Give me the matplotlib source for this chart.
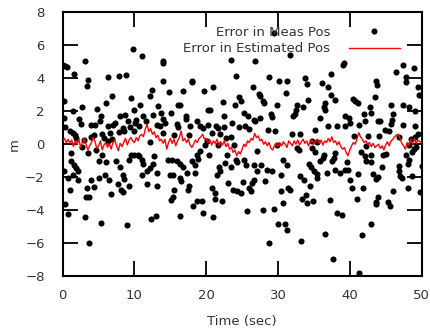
import numpy as np
import matplotlib
matplotlib.use("Agg")
import matplotlib.pyplot as plt

meas_t = [
    0.0, 0.37, 0.65, 1.57, 3.06, 3.5, 3.34, 6.3, 7.8, 8.86, 9.56, 6.87, 5.98, 0.18, 2.69, 1.39, 0.18, 4.82,
    2.31, 2.5, 5.29, 5.15, 3.98, 4.45, 6.31, 7.05, 7.3, 7.98, 8.63, 9.1, 8.44, 9.33, 0.37, 1.02, 1.4, 1.76,
    1.9, 3.99, 4.4, 5.47, 5.7, 6.54, 6.3, 6.9, 8.6, 7.9, 1.2, 1.1, 1.6, 1.9, 2.2, 0.18, 1.4, 0.74, 2.1, 0.97,
    3.99, 4.3, 3.43, 3.25, 3.7, 5.0, 5.85, 6.5, 5.0, 6.1, 5.5, 7.47, 8.0, 8.4, 8.54, 9.19, 7.7, 8.15, 8.4,
    6.68, 9.28, 9.55, 0.37, 0.74, 3.06, 5.38, 8.96, 3.62, 9.84, 3.5, 4.7, 2.7, 2.9,
    11.0, 13.93, 14.0, 14.0, 18.0, 18.05, 12.5, 12.2, 14.85, 16.8, 19.7, 10.77, 9.93, 13.3, 16.1, 16.4,
    13.65, 12.6, 15.1, 17.2, 17.2, 11.2, 10.2, 11.6, 10.1, 10.6, 14.0, 14.3, 13.1, 13.55, 15.9, 16.1, 18.7,
    17.8, 19.2, 19.6, 14.0, 15.5, 17.6, 10.0, 12.15, 10.0, 10.67, 10.5, 11.0, 11.2, 12.7, 12.6, 14.7, 15.2,
    15.9, 16.3, 16.7, 18.0, 18.66, 19.1, 18.9, 18.4, 12.15, 11.8, 11.0, 13.2, 14.95, 15.3, 16.3, 16.55,
    17.35, 18.4, 11.8, 13.2, 17.6, 17.5, 15.5, 15.3, 15.15, 18.2, 18.66, 19.36, 19.6, 12.25, 13.0, 16.4,
    23.4, 26.8, 24.2, 28.7, 21.0, 26.5, 27.4, 27.5, 27.85, 28.0, 24.5, 24.0, 24.9, 22.3, 20.2, 20.5, 25.25,
    25.8, 29.0, 29.2, 22.5, 23.6, 26.6, 26.8, 27.5, 20.2, 21.35, 21.6, 22.5, 24.6, 25.4, 25.9, 28.6, 29.6,
    20.8, 21.9, 23.5, 22.8, 20.1, 19.8, 21.6, 23.9, 27.1, 20.4, 22.9, 24.1, 25.3, 24.3, 22.6, 21.8, 21.95,
    21.5, 23.5, 25.5, 26.6, 27.1, 27.7, 28.45, 29.15, 28.2, 26.6, 26.4, 25.15, 23.1, 23.7, 24.3, 24.9, 25.9,
    26.3, 20.75, 21.2, 21.2, 22.2, 20.9, 25.7, 27.85, 29.4, 28.8, 29.4,
    31.65, 39.2, 39.1, 30.1, 31.3, 33.8, 34.0, 37.4, 36.2, 36.9, 31.1, 34.2, 37.4, 37.9, 36.5, 36.35, 36.6,
    35.9, 29.9, 32.6, 32.5, 32.4, 32.1, 33.5, 39.3, 38.2, 39.4, 35.2, 36.9, 32.0, 33.1, 34.8, 35.5, 29.8,
    32.7, 32.9, 34.8, 35.2, 36.4, 36.3, 38.0, 37.8, 37.5, 35.8, 30.7, 31.3, 30.4, 34.3, 34.6, 35.0, 35.5,
    35.5, 36.8, 38.0, 38.7, 39.4, 33.05, 33.6, 34.5, 30.4, 31.4, 31.7, 33.85, 33.4, 34.1, 34.9, 30.7, 37.3,
    38.25, 38.9, 30.0, 31.0, 31.2, 33.2, 36.6, 37.6,
    46.5, 47.45, 49.0, 47.8, 47.8, 43.7, 43.8, 49.45, 49.6, 43.5, 40.4, 40.7, 41.1, 45.7, 47.35, 48.2, 42.8,
    42.9, 49.1, 42.0, 46.05, 43.9, 44.2, 47.35, 49.1, 39.9, 40.1, 41.3, 42.1, 45.7, 45.9, 44.95, 45.4, 49.1,
    49.45, 40.6, 42.6, 44.1, 46.8, 48.5, 48.3, 42.25, 41.5, 42.1, 42.9, 42.25, 42.9, 44.65, 45.0, 47.8, 48.7,
    48.95, 49.2, 48.3, 48.05, 39.55, 39.8, 44.5, 46.9, 46.8, 47.0, 47.3, 48.65, 41.1, 43.3, 43.6, 43.9, 40.0,
    41.8, 40.3, 46.0, 48.1, 49.8, 40.95, 44.0, 43.6, 43.7, 45.3, 45.6, 42.9, 41.7, 41.3, 50.0, 49.9,
]
meas_err = [
    4.8, 4.72, 4.66, 4.27, 5.06, 3.9, 3.55, 4.05, 4.15, 4.2, 2.8, 2.94, 2.5, 2.6, 2.24, 2.03, 1.59, 2.15,
    1.53, 1.22, 1.69, 1.39, 1.18, 1.14, 1.08, 1.18, 1.3, 1.69, 1.79, 1.42, 0.98, 1.06, 1.02, 0.82, 0.65, 0.54,
    0.4, 0.42, 0.55, 0.61, 0.36, 0.67, 0.2, 0.3, 0.78, 0.75, -0.54, -1.04, -1.25, -1.45, -1.6, -1.65, -1.85,
    -2.05, -2.2, -2.76, -2.2, -2.6, -2.66, -3.19, -3.19, -2.05, -1.85, -2.2, -1.0, -1.1, -0.65, -1.04, -1.4,
    -1.85, -2.1, -2.56, -2.42, -2.76, -2.9, -3.02, -0.94, -0.65, -3.63, -4.24, -4.44, -4.78, -4.89, -6.0,
    5.78, -0.55, -0.35, -0.2, 0.25,
    5.33, 5.06, 4.95, 3.85, 3.85, 3.75, 3.3, 2.9, 3.14, 3.2, 3.24, 2.4, 2.09, 2.3, 2.39, 2.39, 1.89, 1.79,
    1.89, 1.69, 1.5, 1.69, 1.48, 1.39, 1.3, 1.1, 1.5, 1.3, 1.18, 1.08, 1.22, 1.02, 1.39, 1.08, 1.08, 0.98,
    0.68, 0.57, 0.57, 0.78, 0.13, -0.64, -0.74, -0.64, -0.94, -1.2, -0.74, -1.2, -0.94, -0.94, -1.04, -1.2,
    -1.4, -1.04, -0.64, -0.44, -0.88, -1.26, -1.45, -1.65, -1.85, -1.75, -1.89, -1.85, -2.05, -2.25, -1.75,
    -1.75, -2.42, -2.56, -2.56, -2.8, -2.76, -3.23, -3.37, -3.77, -3.47, -3.47, -4.18, -4.52, -4.38, -4.38,
    5.12, 5.03, 4.12, 4.05, 3.45, 3.45, 3.04, 2.9, 2.6, 2.5, 2.84, 2.39, 2.6, 2.56, 2.09, 2.05, 1.89, 1.69,
    1.83, 1.63, 1.69, 1.28, 1.48, 1.4, 1.59, 1.18, 1.08, 0.98, 1.02, 1.02, 1.08, 0.95, 0.88, 0.82, 0.68,
    0.62, 0.45, 0.35, 0.17, -0.04, -0.04, -0.04, -0.43, -0.64, -0.64, -0.94, -0.94, -1.08, -1.14, -1.4,
    -1.6, -1.85, -1.4, -1.25, -1.25, -1.65, -1.25, -1.55, -1.65, -2.25, -2.15, -2.35, -2.3, -2.36, -2.76,
    -2.82, -2.96, -2.66, -2.86, -2.66, -2.96, -3.31, -3.43, -4.44, -4.04, -3.98, -3.92, -6.0, 6.74,
    5.4, 4.92, 4.78, 3.82, 3.82, 4.0, 3.65, 4.25, 3.7, 3.5, 3.1, 2.7, 3.0, 2.7, 2.5, 2.24, 2.1, 1.59, 2.4,
    2.36, 2.1, 1.85, 1.69, 2.24, 1.69, 1.08, 1.08, 0.88, 1.08, 0.61, 0.61, 0.2, 0.13, -0.04, -0.25, -0.35,
    -0.25, -0.45, -0.64, -0.84, -0.54, -0.84, -1.04, -1.0, -0.94, -1.25, -1.85, -1.2, -1.4, -1.65, -1.8,
    -2.05, -1.75, -1.55, -1.75, -1.55, -1.95, -2.15, -2.56, -2.86, -2.66, -2.76, -3.08, -3.31, -3.57, -3.43,
    -3.57, -3.37, -4.18, -4.32, -4.85, -4.85, -5.19, -5.86, -5.45, -6.95,
    4.38, 4.78, 4.62, 4.06, 3.8, 3.82, 3.6, 3.45, 2.96, 2.84, 2.76, 2.6, 2.5, 2.36, 2.39, 2.24, 2.24, 1.89,
    1.99, 1.85, 1.85, 1.39, 1.39, 1.18, 1.08, 1.59, 1.3, 1.18, 1.39, 1.25, 1.45, 0.88, 0.82, 0.45, 0.6, 0.48,
    0.48, 0.48, 0.42, 0.32, -0.04, -0.08, -0.5, -0.7, -0.65, -1.0, -1.08, -0.65, -0.6, -0.65, -0.5, -0.3,
    -0.15, -0.94, -1.2, -1.08, -1.55, -1.4, -1.35, -1.65, -1.95, -2.05, -1.95, -1.8, -1.8, -2.1, -2.0, -2.15,
    -2.66, -2.66, -2.86, -2.66, -2.9, -3.31, -3.23, -3.5, -3.63, -3.5, -3.77, -4.85, -5.5, -7.82, -1.3, 2.98,
]

# estimated position error, one value every 0.25 s from 0 to 50 s
est_err = [
    0.2, 0.35, 0.1, 0.3, 0.05, 0.25, -0.15, 0.2, 0.0, 0.3,
    -0.2, 0.15, 0.35, 0.0, -0.35, -0.1, 0.1, 0.4, 0.15, -0.25,
    -0.1, 0.2, -0.35, -0.05, 0.1, -0.2, 0.05, -0.3, 0.1, 0.25,
    -0.1, -0.4, 0.05, -0.15, 0.1, 0.35, -0.05, 0.25, 0.4, 0.2,
    0.1, 0.4, 0.2, 0.5, 0.6, 0.45, 0.9, 1.2, 0.75, 0.95,
    0.6, 0.75, 0.4, 0.55, 0.2, 0.3, 0.05, 0.3, -0.3, 0.1,
    0.35, 0.05, 0.3, -0.1, 0.2, 0.4, 0.8, 0.2, 0.35, 0.1,
    0.3, -0.05, -0.2, 0.0, 0.25, 0.1, 0.35, 0.45, 0.6, 0.3,
    0.35, 0.1, 0.25, -0.05, 0.2, 0.05, 0.3, -0.1, 0.15, -0.05,
    0.2, -0.15, 0.05, -0.3, -0.2, -0.5, -0.35, -0.7, -0.45, -0.6,
    -0.3, 0.0, -0.15, 0.2, 0.1, 0.35, 0.25, 0.65, 0.4, 0.5,
    0.2, 0.3, 0.0, 0.15, -0.1, 0.1, -0.25, -0.35, -0.1, 0.05,
    -0.15, 0.1, -0.1, 0.15, 0.0, -0.2, 0.2, 0.05, -0.1, 0.2,
    0.0, 0.25, -0.05, 0.15, 0.3, 0.05, 0.2, -0.1, 0.15, 0.25,
    0.0, 0.2, 0.3, 0.05, 0.25, -0.05, 0.2, 0.1, 0.35, 0.15,
    0.45, 0.1, 0.2, -0.05, 0.15, -0.15, -0.3, -0.2, -0.5, -0.7,
    -0.35, -0.1, 0.1, 0.0, 0.3, 0.7, 0.45, 0.3, 0.1, 0.2,
    0.0, 0.1, -0.15, 0.05, -0.2, -0.1, 0.0, -0.25, -0.1, -0.35,
    -0.05, 0.15, -0.1, 0.2, 0.3, 0.45, 0.55, 0.6, 0.35, 0.05,
    -0.1, -0.3, 0.1, -0.05, 0.3, 0.0, 0.35, 0.05, 0.25, 0.15,
    0.1,
]
est_t = np.linspace(0, 50, len(est_err))

x_ticks = [0, 10, 20, 30, 40, 50]
y_ticks = [-8, -6, -4, -2, 0, 2, 4, 6, 8]
tick_labels_y = ["\u22128", "\u22126", "\u22124", "\u22122", "0", "2", "4", "6", "8"]

txt = "#333333"
plt.rcParams["font.family"] = ["DejaVu Sans"]

fig = plt.figure(figsize=(4.31, 3.29), dpi=100)
ax = fig.add_axes([0.1455, 0.161, 0.8325, 0.8015])

ax.plot(meas_t, meas_err, "o", color="black", markersize=4.4, markeredgewidth=0,
        label="Error in Meas Pos", zorder=2)
ax.plot(est_t, est_err, color="red", linewidth=1.0, label="Error in Estimated Pos", zorder=3)

ax.set_xlim(0, 50)
ax.set_ylim(-8, 8)
ax.set_xticks(x_ticks)
ax.set_yticks(y_ticks)
ax.set_yticklabels(tick_labels_y)
ax.tick_params(direction="in", length=11, width=1.3, top=True, right=True,
               labelsize=9.5, labelcolor=txt)
ax.tick_params(axis="y", pad=13)
ax.tick_params(axis="x", pad=9.5)
for s in ax.spines.values():
    s.set_linewidth(1.5)

ax.set_xlabel("Time (sec)", fontsize=9.5, color=txt, labelpad=9)
ax.set_ylabel("m", fontsize=9.5, color=txt, labelpad=3)

leg = ax.legend(loc="upper right", bbox_to_anchor=(0.94, 0.95), frameon=False,
                markerfirst=False, fontsize=9.5, handlelength=3.9, handletextpad=1.4,
                labelspacing=0.3, borderpad=0, borderaxespad=0)
for t in leg.get_texts():
    t.set_color(txt)

fig.savefig("out.png", dpi=100)
